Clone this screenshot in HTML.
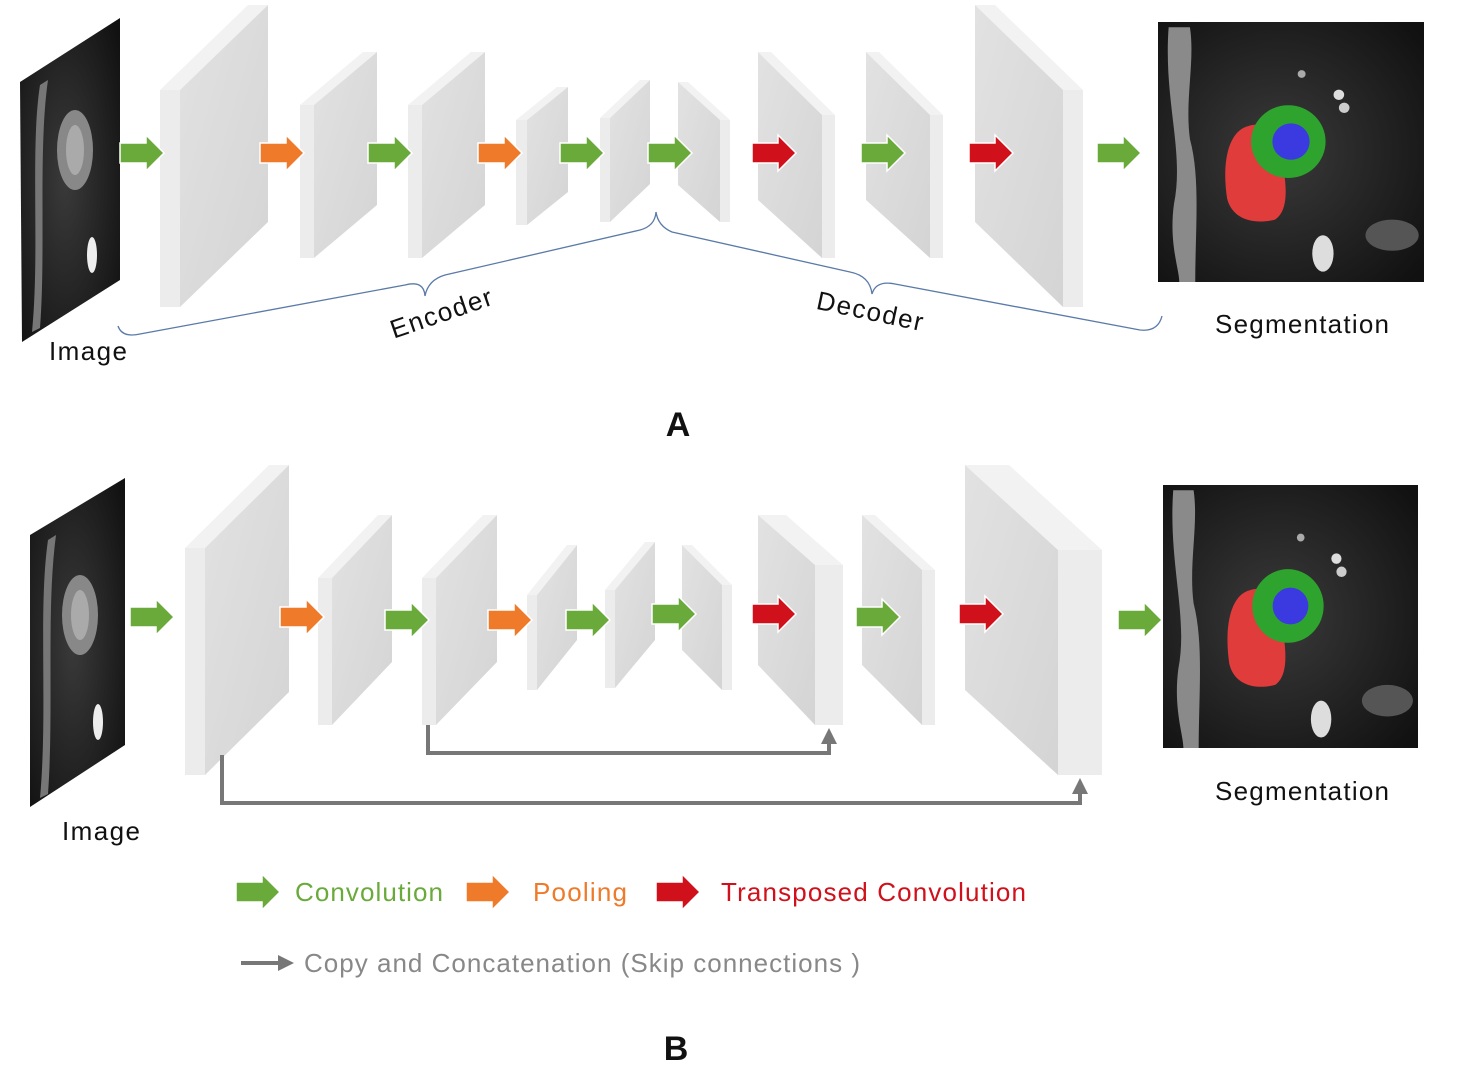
<!DOCTYPE html>
<html><head><meta charset="utf-8"><style>html,body{margin:0;padding:0;background:#fff}svg{display:block}text{font-family:"Liberation Sans",sans-serif}</style></head><body>
<svg width="1464" height="1091" viewBox="0 0 1464 1091" xmlns="http://www.w3.org/2000/svg">
<defs>
<linearGradient id="face" x1="0" y1="0" x2="1" y2="1"><stop offset="0" stop-color="#e2e2e2"/><stop offset="1" stop-color="#d4d4d4"/></linearGradient>
<radialGradient id="mri" cx="0.45" cy="0.5" r="0.7"><stop offset="0" stop-color="#3a3a3a"/><stop offset="1" stop-color="#111"/></radialGradient>
<g id="seg">
<rect x="0" y="0" width="100" height="100" fill="url(#mri)"/>
<path d="M4 2 C2 30 10 50 6 70 C4 85 8 95 8 100 L14 100 C14 80 16 60 12 45 C10 30 14 15 12 2 Z" fill="#8a8a8a"/>
<ellipse cx="62" cy="89" rx="4" ry="7" fill="#ddd"/>
<ellipse cx="88" cy="82" rx="10" ry="6" fill="#555"/>
<circle cx="68" cy="28" r="2" fill="#ddd"/><circle cx="70" cy="33" r="2" fill="#ccc"/><circle cx="54" cy="20" r="1.5" fill="#aaa"/>
<path d="M34 40 C26 42 24 55 26 68 C28 76 36 78 44 76 C50 72 48 60 46 50 C44 42 40 38 34 40 Z" fill="#e03c3c"/>
<circle cx="49" cy="46" r="14" fill="#2ea42e"/>
<circle cx="50" cy="46" r="7" fill="#3a3ae0"/>
</g>
<g id="ga"><path d="M0 -10 H26 V-18 L44 0 L26 18 V10 H0 Z" fill="#6aaa3a" stroke="#fff" stroke-width="1.5"/></g>
<g id="oa"><path d="M0 -10 H26 V-18 L44 0 L26 18 V10 H0 Z" fill="#ee7a2a" stroke="#fff" stroke-width="1.5"/></g>
<g id="ra"><path d="M0 -10 H26 V-18 L44 0 L26 18 V10 H0 Z" fill="#d0101a" stroke="#fff" stroke-width="1.5"/></g>
</defs>

<polygon points="20,82 120,18 120,280 22,342" fill="url(#mri)"/>
<path d="M40 85 C30 150 40 250 32 332 L40 328 C46 250 38 150 48 80Z" fill="#777"/>
<ellipse cx="75" cy="150" rx="18" ry="40" fill="#888"/><ellipse cx="75" cy="150" rx="9" ry="25" fill="#aaa"/>
<ellipse cx="92" cy="255" rx="5" ry="18" fill="#eee"/>
<polygon points="30,535 125,478 125,745 30,807" fill="url(#mri)"/>
<path d="M48 540 C38 610 48 710 40 798 L48 794 C54 710 46 610 56 535Z" fill="#777"/>
<ellipse cx="80" cy="615" rx="18" ry="40" fill="#888"/><ellipse cx="80" cy="615" rx="9" ry="25" fill="#aaa"/>
<ellipse cx="98" cy="722" rx="5" ry="18" fill="#eee"/>

<g transform="translate(1158,22) scale(2.66,2.6)"><use href="#seg"/></g>
<g transform="translate(1163,485) scale(2.55,2.63)"><use href="#seg"/></g>

<g>
<polygon points="160,90 180,90 268,5 248,5" fill="#f2f2f2"/>
<polygon points="160,90 180,90 180,307 160,307" fill="#ececec"/>
<polygon points="180,90 268,5 268,222 180,307" fill="url(#face)"/>
<polygon points="300,105 314,105 377,52 363,52" fill="#f2f2f2"/>
<rect x="300" y="105" width="14" height="153" fill="#ececec"/>
<polygon points="314,105 377,52 377,205 314,258" fill="url(#face)"/>
<polygon points="408,105 422,105 485,52 471,52" fill="#f2f2f2"/>
<rect x="408" y="105" width="14" height="153" fill="#ececec"/>
<polygon points="422,105 485,52 485,205 422,258" fill="url(#face)"/>
<polygon points="516,120 527,120 568,87 557,87" fill="#f2f2f2"/>
<rect x="516" y="120" width="11" height="105" fill="#ececec"/>
<polygon points="527,120 568,87 568,192 527,225" fill="url(#face)"/>
<polygon points="600,118 610,118 650,80 640,80" fill="#f2f2f2"/>
<rect x="600" y="118" width="10" height="104" fill="#ececec"/>
<polygon points="610,118 650,80 650,184 610,222" fill="url(#face)"/>
</g>
<g>
<polygon points="678,82 688,82 730,120 720,120" fill="#f2f2f2"/>
<polygon points="678,82 720,120 720,222 678,185" fill="url(#face)"/>
<rect x="720" y="120" width="10" height="102" fill="#ececec"/>
<polygon points="758,52 771,52 835,115 822,115" fill="#f2f2f2"/>
<polygon points="758,52 822,115 822,258 758,200" fill="url(#face)"/>
<rect x="822" y="115" width="13" height="143" fill="#ececec"/>
<polygon points="866,52 879,52 943,115 930,115" fill="#f2f2f2"/>
<polygon points="866,52 930,115 930,258 866,200" fill="url(#face)"/>
<rect x="930" y="115" width="13" height="143" fill="#ececec"/>
<polygon points="975,5 995,5 1083,90 1063,90" fill="#f2f2f2"/>
<polygon points="975,5 1063,90 1063,307 975,222" fill="url(#face)"/>
<rect x="1063" y="90" width="20" height="217" fill="#ececec"/>
</g>

<g>
<polygon points="185,548 205,548 289,465 269,465" fill="#f2f2f2"/>
<rect x="185" y="548" width="20" height="227" fill="#ececec"/>
<polygon points="205,548 289,465 289,692 205,775" fill="url(#face)"/>
<polygon points="318,578 332,578 392,515 378,515" fill="#f2f2f2"/>
<rect x="318" y="578" width="14" height="147" fill="#ececec"/>
<polygon points="332,578 392,515 392,662 332,725" fill="url(#face)"/>
<polygon points="422,578 436,578 497,515 483,515" fill="#f2f2f2"/>
<rect x="422" y="578" width="14" height="147" fill="#ececec"/>
<polygon points="436,578 497,515 497,662 436,725" fill="url(#face)"/>
<polygon points="527,595 537,595 577,545 567,545" fill="#f2f2f2"/>
<rect x="527" y="595" width="10" height="95" fill="#ececec"/>
<polygon points="537,595 577,545 577,640 537,690" fill="url(#face)"/>
<polygon points="605,590 615,590 655,542 645,542" fill="#f2f2f2"/>
<rect x="605" y="590" width="10" height="98" fill="#ececec"/>
<polygon points="615,590 655,542 655,640 615,688" fill="url(#face)"/>
</g>
<g>
<polygon points="682,545 692,545 732,585 722,585" fill="#f2f2f2"/>
<polygon points="682,545 722,585 722,690 682,650" fill="url(#face)"/>
<rect x="722" y="585" width="10" height="105" fill="#ececec"/>
<polygon points="758,515 786,515 843,565 815,565" fill="#f2f2f2"/>
<polygon points="758,515 815,565 815,725 758,665" fill="url(#face)"/>
<rect x="815" y="565" width="28" height="160" fill="#ececec"/>
<polygon points="862,515 875,515 935,570 922,570" fill="#f2f2f2"/>
<polygon points="862,515 922,570 922,725 862,665" fill="url(#face)"/>
<rect x="922" y="570" width="13" height="155" fill="#ececec"/>
<polygon points="965,465 1009,465 1102,550 1058,550" fill="#f2f2f2"/>
<polygon points="965,465 1058,550 1058,775 965,690" fill="url(#face)"/>
<rect x="1058" y="550" width="44" height="225" fill="#ececec"/>
</g>

<use href="#ga" x="120" y="153"/><use href="#oa" x="260" y="153"/><use href="#ga" x="368" y="153"/>
<use href="#oa" x="478" y="153"/><use href="#ga" x="560" y="153"/><use href="#ga" x="648" y="153"/>
<use href="#ra" x="752" y="153"/><use href="#ga" x="861" y="153"/><use href="#ra" x="969" y="153"/>
<use href="#ga" x="1097" y="153"/>
<use href="#ga" x="130" y="617"/><use href="#oa" x="280" y="617"/><use href="#ga" x="385" y="620"/>
<use href="#oa" x="488" y="620"/><use href="#ga" x="566" y="620"/><use href="#ga" x="652" y="614"/>
<use href="#ra" x="752" y="614"/><use href="#ga" x="856" y="617"/><use href="#ra" x="959" y="614"/>
<use href="#ga" x="1118" y="620"/>

<path d="M428 725 V753 H829 V742" fill="none" stroke="#777" stroke-width="4"/>
<polygon points="821,744 837,744 829,728" fill="#777"/>
<path d="M222 755 V803 H1080 V792" fill="none" stroke="#777" stroke-width="4"/>
<polygon points="1072,794 1088,794 1080,778" fill="#777"/>

<path d="M118 326 Q122 338 140 334 L405 285 Q424 280 425 296 Q428 280 445 275 L640 230 Q655 226 656 212 Q658 226 672 232 L850 272 Q870 276 872 294 Q876 280 895 284 L1140 330 Q1158 332 1162 316" fill="none" stroke="#5a7aa8" stroke-width="1.3"/>

<text x="49" y="360" font-size="26" fill="#111" textLength="78">Image</text>
<text x="62" y="840" font-size="26" fill="#111" textLength="78">Image</text>
<text x="1215" y="333" font-size="26" fill="#111" textLength="174">Segmentation</text>
<text x="1215" y="800" font-size="26" fill="#111" textLength="174">Segmentation</text>
<text x="441" y="322" font-size="26" fill="#111" text-anchor="middle" textLength="106" transform="rotate(-19 441 313)">Encoder</text>
<text x="870" y="320" font-size="26" fill="#111" text-anchor="middle" textLength="108" transform="rotate(12 870 311)">Decoder</text>
<text x="678" y="436" font-size="34" font-weight="bold" fill="#111" text-anchor="middle">A</text>
<text x="676" y="1060" font-size="34" font-weight="bold" fill="#111" text-anchor="middle">B</text>

<use href="#ga" x="236" y="892"/>
<text x="295" y="901" font-size="26" fill="#6aaa3a" textLength="148">Convolution</text>
<use href="#oa" x="466" y="892"/>
<text x="533" y="901" font-size="26" fill="#ee7a2a" textLength="94">Pooling</text>
<use href="#ra" x="656" y="892"/>
<text x="721" y="901" font-size="26" fill="#d0101a" textLength="305">Transposed Convolution</text>
<line x1="241" y1="963" x2="280" y2="963" stroke="#777" stroke-width="4"/>
<polygon points="278,955 294,963 278,971" fill="#777"/>
<text x="304" y="972" font-size="26" fill="#888" textLength="556">Copy and Concatenation (Skip connections )</text>
</svg>
</body></html>
